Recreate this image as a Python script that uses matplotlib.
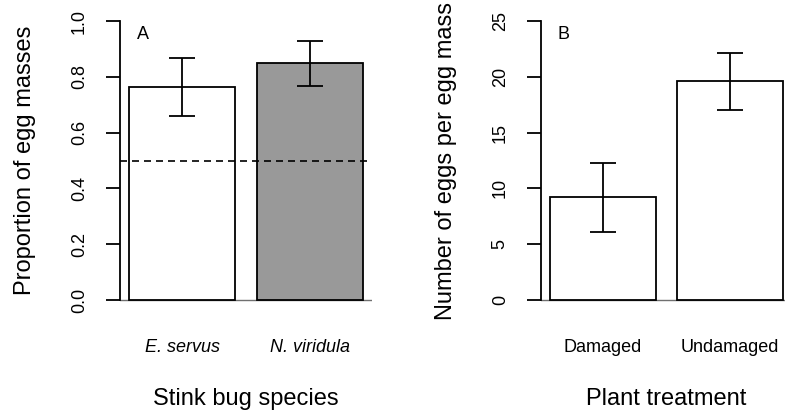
import matplotlib
matplotlib.use("Agg")
import matplotlib.pyplot as plt
import numpy as np

plt.rcParams['font.family'] = ['Liberation Sans', 'DejaVu Sans']

# Panel A data
species = ["E. servus", "N. viridula"]
prop_mean = [0.763, 0.849]
prop_lo = [0.659, 0.767]
prop_hi = [0.867, 0.928]
prop_colors = ["white", "#999999"]

# Panel B data
treatments = ["Damaged", "Undamaged"]
eggs_mean = [9.2, 19.6]
eggs_lo = [6.1, 17.05]
eggs_hi = [12.25, 22.15]

W, H = 785, 413
fig = plt.figure(figsize=(W / 100, H / 100), dpi=100)

def px_axes(x0, x1, ytop, ybot):
    return fig.add_axes([x0 / W, 1 - ybot / H, (x1 - x0) / W, (ybot - ytop) / H])

lw = 1.3
xpos = np.array([0.7, 1.9])

def yticks_labels(ticks):
    if max(ticks) <= 1:
        return [f"{t:.1f}" for t in ticks]
    return [f"{int(t)}" for t in ticks]

def draw_panel(ax, means, lo, hi, colors, names, ymax, yticks, ylabel, letter, italic):
    ax.set_xlim(0.112, 2.488)
    ax.set_ylim(-0.04 * ymax, 1.04 * ymax)
    ax.axhline(0, color="#707070", lw=1.0, zorder=1)
    ax.bar(xpos, means, width=1.0, color=colors, edgecolor="black", linewidth=lw, zorder=2)
    yerr = [np.array(means) - np.array(lo), np.array(hi) - np.array(means)]
    ax.errorbar(xpos, means, yerr=yerr, fmt="none", ecolor="black", elinewidth=lw,
                capsize=9.5, capthick=lw, zorder=3)
    for s in ["top", "right", "bottom"]:
        ax.spines[s].set_visible(False)
    ax.spines["left"].set_bounds(0, ymax)
    ax.spines["left"].set_linewidth(lw)
    ax.set_yticks(yticks)
    ax.set_yticklabels(yticks_labels(yticks), rotation=90, va="center")
    ax.tick_params(axis="y", length=10, width=lw, pad=13, labelsize=13)
    ax.set_xticks(xpos)
    ax.set_xticklabels(names, fontsize=13, style="italic" if italic else "normal")
    ax.tick_params(axis="x", length=0, pad=20)
    ax.set_ylabel(ylabel, fontsize=17, labelpad=25)
    ax.text(0.33, 0.953 * ymax, letter, fontsize=13, ha="center", va="center")

axA = px_axes(120, 371.9, 9.84, 311.2)
draw_panel(axA, prop_mean, prop_lo, prop_hi, prop_colors, species, 1.0,
           [0.0, 0.2, 0.4, 0.6, 0.8, 1.0], "Proportion of egg masses", "A", True)
axA.axhline(0.5, color="black", lw=1.2, linestyle=(0, (4.2, 3.0)), zorder=4)
axA.set_xlabel("Stink bug species", fontsize=17, labelpad=23)

axB = px_axes(540.7, 792.6, 9.84, 311.2)
draw_panel(axB, eggs_mean, eggs_lo, eggs_hi, ["white", "white"], treatments, 25,
           [0, 5, 10, 15, 20, 25], "Number of eggs per egg mass", "B", False)
axB.set_xlabel("Plant treatment", fontsize=17, labelpad=23)

fig.savefig("out.png", dpi=100)
